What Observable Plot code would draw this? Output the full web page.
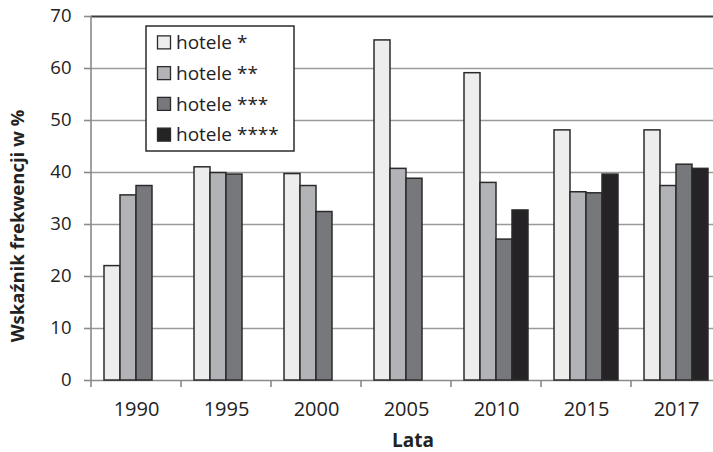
<!DOCTYPE html>
<html>
<head>
<meta charset="utf-8">
<script src="https://cdn.jsdelivr.net/npm/d3@7"></script>
<script src="https://cdn.jsdelivr.net/npm/@observablehq/plot@0.6"></script>
<style>
  html, body { margin: 0; padding: 0; background: #fff; }
  #chart svg { font-family: "Open Sans", sans-serif; }
</style>
</head>
<body>
<div id="chart"></div>
<script>
const years = ["1990", "1995", "2000", "2005", "2010", "2015", "2017"];
const series = ["hotele *", "hotele **", "hotele ***", "hotele ****"];
const hotele1 = [22.0, 41.0, 39.7, 65.4, 59.1, 48.1, 48.1];
const hotele2 = [35.6, 39.9, 37.4, 40.7, 38.0, 36.2, 37.4];
const hotele3 = [37.4, 39.6, 32.4, 38.8, 27.1, 36.0, 41.5];
const hotele4 = [null, null, null, null, 32.7, 39.6, 40.7];
const yTicks = [0, 10, 20, 30, 40, 50, 60, 70];
const colors = ["#ededed", "#b2b3b7", "#77787c", "#252325"];
const yTitle = "Wskaźnik frekwencji w %";
const xTitle = "Lata";

const valuesBySeries = [hotele1, hotele2, hotele3, hotele4];
const data = [];
series.forEach((s, i) => years.forEach((y, j) => {
  const v = valuesBySeries[i][j];
  if (v != null) data.push({year: y, series: s, value: v});
}));

const plot = Plot.plot({
  width: 713,
  height: 452,
  marginTop: 16,
  marginBottom: 72,
  marginLeft: 89,
  marginRight: -9.5,
  style: {fontFamily: "Open Sans, sans-serif", color: "#222", overflow: "visible"},
  fx: {domain: years, padding: 0, label: null},
  x: {domain: series, paddingInner: 0, paddingOuter: 0.74, axis: null},
  y: {domain: [0, 70], label: null},
  color: {domain: series, range: colors},
  marks: [
    Plot.ruleY(yTicks.slice(1, -1), {stroke: "#9a9a9a", strokeWidth: 1.6}),
    Plot.ruleY([0], {stroke: "#8a8a8a", strokeWidth: 1.6}),
    Plot.ruleY([70], {stroke: "#3a3a3a", strokeWidth: 2.2}),
    Plot.barY(data, {fx: "year", x: "series", y: "value", fill: "series", stroke: "#2b2b2b", strokeWidth: 1.5}),
    Plot.axisY({ticks: yTicks, tickSize: 7, tickPadding: 13, fontSize: 18.5, stroke: "#8a8a8a", strokeWidth: 1.6, label: null}),
    Plot.axisFx({anchor: "bottom", tickSize: 0, tickPadding: 21, fontSize: 20, label: null})
  ]
});

document.getElementById("chart").appendChild(plot);

const svg = d3.select(plot.tagName.toLowerCase() === "svg" ? plot : plot.querySelector("svg"));
const fx = plot.scale("fx");
const yS = plot.scale("y");
const y0 = yS.apply(0);
const y70 = yS.apply(70);
const left = fx.apply(years[0]);
const step = fx.step;

// left axis line
svg.append("line")
  .attr("x1", left).attr("x2", left)
  .attr("y1", y70).attr("y2", y0)
  .attr("stroke", "#8a8a8a").attr("stroke-width", 1.6);

// boundary tick marks on the category axis
const bounds = years.map(y => fx.apply(y)).concat([fx.apply(years[years.length - 1]) + step]);
svg.append("g").selectAll("line").data(bounds).join("line")
  .attr("x1", d => d).attr("x2", d => d)
  .attr("y1", y0).attr("y2", y0 + 7)
  .attr("stroke", "#8a8a8a").attr("stroke-width", 1.6);

// axis titles
svg.append("text")
  .attr("transform", `translate(24, ${(y0 + y70) / 2 + 28}) rotate(-90)`)
  .attr("text-anchor", "middle")
  .attr("font-size", 18.5).attr("font-weight", "bold").attr("fill", "#222")
  .text(yTitle);

svg.append("text")
  .attr("x", (left + fx.apply(years[years.length - 1]) + step) / 2 + 7)
  .attr("y", 447)
  .attr("text-anchor", "middle")
  .attr("font-size", 19).attr("font-weight", "bold").attr("fill", "#222")
  .text(xTitle);

// legend
const lg = svg.append("g");
lg.append("rect")
  .attr("x", 146).attr("y", 26).attr("width", 148).attr("height", 125)
  .attr("fill", "#fff").attr("stroke", "#2b2b2b").attr("stroke-width", 1.5);
const rowY = d3.scaleBand().domain(series).range([27, 150]);
series.forEach((s, i) => {
  const cy = rowY(s) + rowY.bandwidth() / 2;
  lg.append("rect")
    .attr("x", 157.5).attr("y", cy - 6.5).attr("width", 13).attr("height", 13)
    .attr("fill", colors[i]).attr("stroke", "#2b2b2b").attr("stroke-width", 1.3);
  lg.append("text")
    .attr("x", 176).attr("y", cy).attr("dy", "0.36em")
    .attr("text-anchor", "start")
    .attr("font-size", 19).attr("fill", "#222")
    .text(s);
});
</script>
</body>
</html>
